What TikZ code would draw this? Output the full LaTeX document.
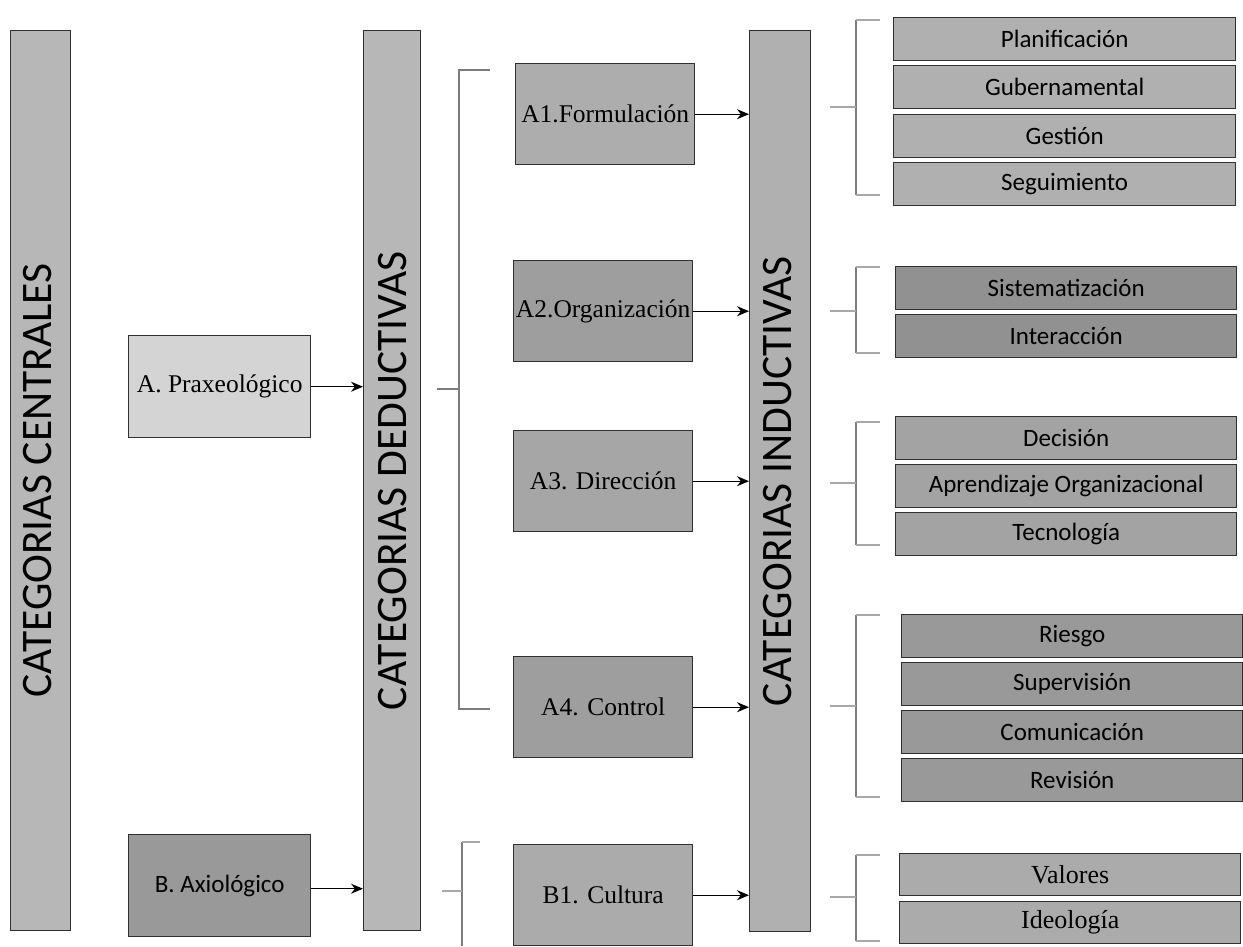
\documentclass[tikz,border=0pt]{standalone}
\usepackage{fontspec}
\setmainfont{Liberation Serif}
\newfontfamily\carlito{Carlito}
\usetikzlibrary{arrows.meta}
\definecolor{linec}{HTML}{303030}
\definecolor{barfill}{HTML}{B7B7B7}
\definecolor{brk}{HTML}{7C7C7C}
\definecolor{brkl}{HTML}{A8A8A8}
\tikzset{
  bar/.style={draw=linec, line width=1.4pt, fill=barfill, anchor=north west, inner sep=0pt},
  bartext/.style={rotate=90, font=\carlito\fontsize{43.5}{50}\selectfont, inner sep=0pt},
  mbox/.style={draw=linec, line width=1.4pt, minimum width=179pt, minimum height=101pt, anchor=north west, inner sep=0pt, font=\fontsize{25.5}{30}\selectfont},
  lbox/.style={draw=linec, line width=1.4pt, minimum width=182pt, minimum height=102pt, anchor=north west, inner sep=0pt, font=\fontsize{25.5}{30}\selectfont},
  rbox/.style={draw=linec, line width=1.4pt, minimum width=342pt, minimum height=43pt, anchor=north west, inner sep=0pt, font=\carlito\fontsize{25}{30}\selectfont},
  arr/.style={-{Stealth[length=12pt,width=10pt]}, line width=1.3pt, black},
  brv/.style={draw=brk, line width=1.3pt},
  brt/.style={draw=brkl, line width=1.1pt},
}
\begin{document}
\begin{tikzpicture}[x=1pt,y=-1pt]
\path[use as bounding box, fill=white] (0,0) rectangle (1243,946);
% vertical bars
\node[bar, minimum width=60pt, minimum height=900pt] (cen) at (10,30) {};
\node[bartext, yshift=3pt] (centxt) at (cen.center) {CATEGORIAS CENTRALES};
\node[bar, minimum width=57pt, minimum height=900pt] (ded) at (363,30) {};
\node[bartext] (dedtxt) at (ded.center) {CATEGORIAS DEDUCTIVAS};
\node[bar, minimum width=61pt, minimum height=901pt, fill=black!31] (ind) at (749,30) {};
\node[bartext, yshift=3pt] (indtxt) at (ind.center) {CATEGORIAS INDUCTIVAS};
% left boxes
\node[lbox, fill=black!17] (prax) at (128,335) {A. Praxeológico};
\node[lbox, fill=black!40, font=\carlito\fontsize{25}{30}\selectfont] (axio) at (128,834) {B. Axiológico};
% middle boxes
\node[mbox, fill=black!32] (a1) at (515,63) {A1.Formulación};
\node[mbox, fill=black!38] (a2) at (513,260) {A2.Organización};
\node[mbox, fill=black!35] (a3) at (513,430) {A3. Dirección};
\node[mbox, fill=black!38] (a4) at (513,656) {A4. Control};
\node[mbox, fill=black!33] (b1) at (513,844) {B1. Cultura};
% arrows
\draw[arr] (prax.east) -- (ded.west |- prax.east);
\draw[arr] (axio.east) ++(0,3) coordinate (axs) (axs) -- (ded.west |- axs);
\foreach \n in {a1,a2,a3,a4,b1}{
  \draw[arr] (\n.east) -- (ind.west |- \n.east);
}
% right boxes
\node[rbox, fill=black!31] (r11) at (893,17) {Planificación};
\node[rbox, fill=black!31] (r12) at (893,65) {Gubernamental};
\node[rbox, fill=black!31] (r13) at (893,114) {Gestión};
\node[rbox, fill=black!31] (r14) at (893,162) {Seguimiento};
\node[rbox, fill=black!43, minimum width=341pt] (r21) at (895,266) {Sistematización};
\node[rbox, fill=black!43, minimum width=341pt] (r22) at (895,314) {Interacción};
\node[rbox, fill=black!36, minimum width=341pt] (r31) at (895,416) {Decisión};
\node[rbox, fill=black!36, minimum width=341pt] (r32) at (895,464) {Aprendizaje Organizacional};
\node[rbox, fill=black!36, minimum width=341pt] (r33) at (895,512) {Tecnología};
\node[rbox, fill=black!40, minimum width=341pt] (r41) at (901,614) {Riesgo};
\node[rbox, fill=black!40, minimum width=341pt] (r42) at (901,662) {Supervisión};
\node[rbox, fill=black!40, minimum width=341pt] (r43) at (901,710) {Comunicación};
\node[rbox, fill=black!40, minimum width=341pt] (r44) at (901,758) {Revisión};
\node[rbox, fill=black!33, minimum width=341pt, minimum height=42pt, font=\fontsize{26}{30}\selectfont] (r51) at (899,853) {Valores};
\node[rbox, fill=black!33, minimum width=341pt, minimum height=42pt, font=\fontsize{26}{30}\selectfont] (r52) at (899,901) {Ideología};
% brackets (middle column)
\draw[brv] (490,70) -- (459,70) -- (459,709) -- (490,709);
\draw[brv] (437,389) -- (459,389);
\draw[brv] (462,842) -- (462,946);
\draw[brt] (462,842) -- (480,842);
\draw[brt] (442,891) -- (462,891);
% brackets (right column)
\foreach \t/\b/\m in {20/195/107, 267/353/311, 422/545/483, 615/797/706, 855/941/897}{
  \draw[brv] (856,\t) -- (856,\b);
  \draw[brt] (856,\t) -- (880,\t);
  \draw[brt] (856,\b) -- (880,\b);
  \draw[brt] (830,\m) -- (856,\m);
}
\end{tikzpicture}
\end{document}
